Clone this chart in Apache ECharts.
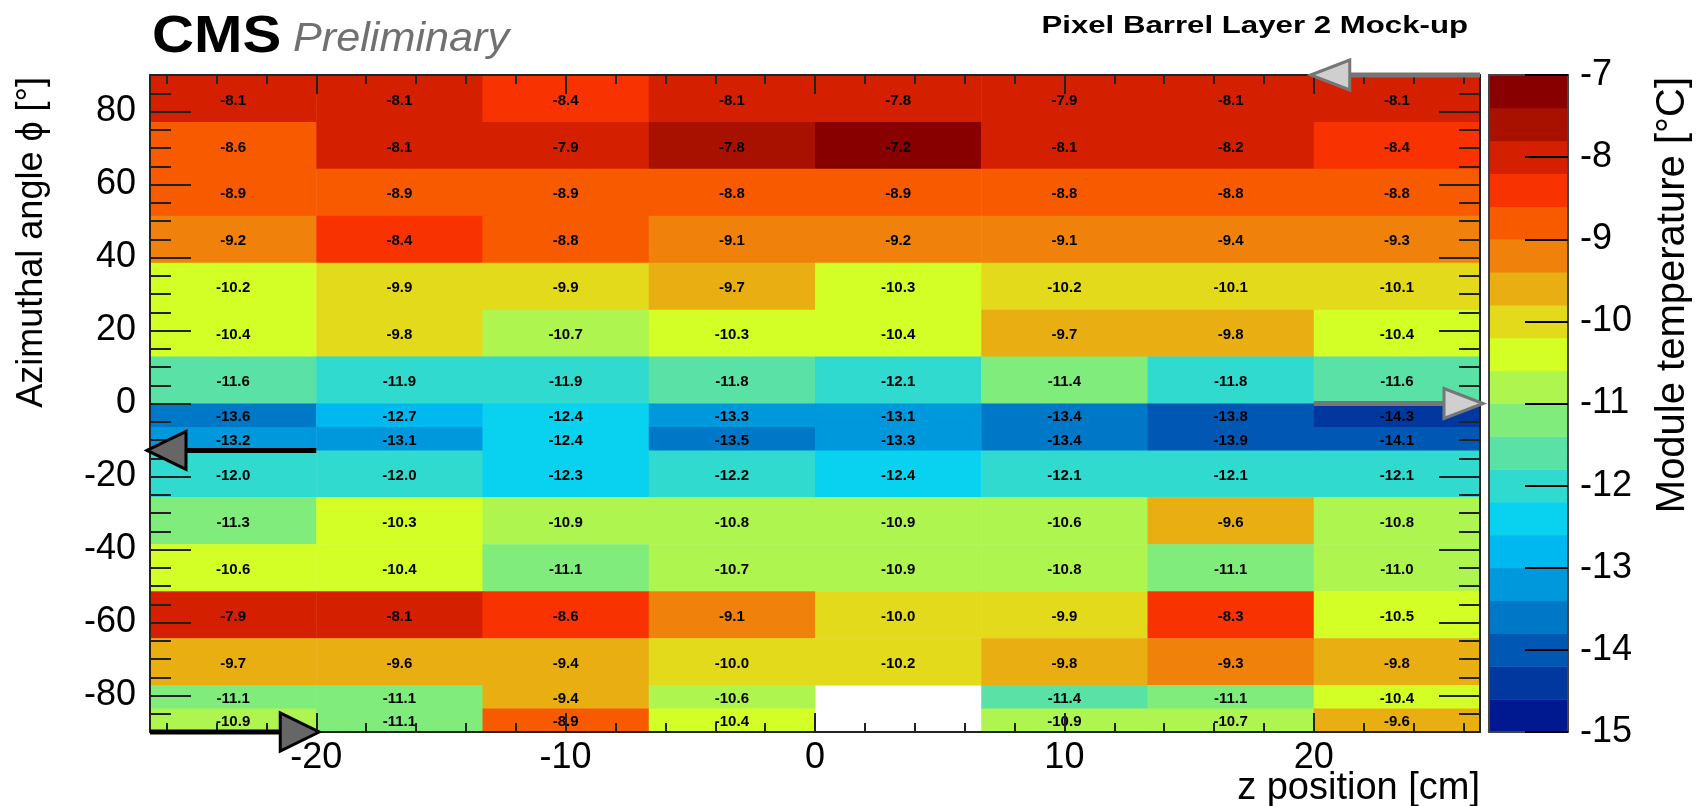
<!DOCTYPE html>
<html>
<head>
<meta charset="utf-8">
<script src="https://cdn.jsdelivr.net/npm/echarts@6/dist/echarts.min.js"></script>
<style>
html,body{margin:0;padding:0;background:#fff;}
#chart{width:1699px;height:806px;}
</style>
</head>
<body>
<div id="chart"></div>
<script>
// ---- Data ----
// z bin edges [cm] (8 modules)
const zEdges = [-80/3, -20, -40/3, -20/3, 0, 20/3, 40/3, 20, 80/3];
// phi bin edges [deg], top to bottom
const phiEdges = [90, 77.14, 64.29, 51.43, 38.57, 25.71, 12.86, 0, -6.43, -12.86, -25.71, -38.57, -51.43, -64.29, -77.14, -83.57, -90];
// module temperatures [°C], rows top (phi=90) to bottom (phi=-90), columns z from -26.7 to 26.7
const row01 = [-8.1, -8.1, -8.4, -8.1, -7.82, -7.9, -8.1, -8.1];
const row02 = [-8.62, -8.1, -7.9, -7.78, -7.2, -8.1, -8.18, -8.4];
const row03 = [-8.9, -8.9, -8.9, -8.8, -8.9, -8.8, -8.8, -8.8];
const row04 = [-9.2, -8.4, -8.8, -9.1, -9.2, -9.1, -9.38, -9.3];
const row05 = [-10.22, -9.9, -9.9, -9.7, -10.3, -10.18, -10.1, -10.1];
const row06 = [-10.4, -9.82, -10.7, -10.3, -10.4, -9.7, -9.78, -10.4];
const row07 = [-11.6, -11.9, -11.9, -11.78, -12.1, -11.38, -11.82, -11.6];
const row08 = [-13.6, -12.7, -12.4, -13.3, -13.1, -13.42, -13.82, -14.3];
const row09 = [-13.2, -13.1, -12.4, -13.5, -13.3, -13.42, -13.9, -14.1];
const row10 = [-12.0, -12.0, -12.3, -12.18, -12.4, -12.1, -12.1, -12.1];
const row11 = [-11.3, -10.3, -10.9, -10.8, -10.9, -10.62, -9.6, -10.8];
const row12 = [-10.58, -10.4, -11.1, -10.7, -10.9, -10.8, -11.1, -10.98];
const row13 = [-7.9, -8.1, -8.58, -9.1, -10.0, -9.9, -8.3, -10.5];
const row14 = [-9.7, -9.6, -9.42, -10.0, -10.18, -9.78, -9.3, -9.78];
const row15 = [-11.1, -11.1, -9.42, -10.62, null, -11.42, -11.1, -10.4];
const row16 = [-10.9, -11.1, -8.9, -10.4, null, -10.9, -10.7, -9.6];
const temperatureRows = [row01, row02, row03, row04, row05, row06, row07, row08, row09, row10, row11, row12, row13, row14, row15, row16];

// tick values
const xMajorTicks = [-20, -10, 0, 10, 20];
const xMinorTicks = [-26, -24, -22, -20, -18, -16, -14, -12, -10, -8, -6, -4, -2, 0, 2, 4, 6, 8, 10, 12, 14, 16, 18, 20, 22, 24, 26];
const yMajorTicks = [-80, -60, -40, -20, 0, 20, 40, 60, 80];
const yMinorTicks = [-85, -80, -75, -70, -65, -60, -55, -50, -45, -40, -35, -30, -25, -20, -15, -10, -5, 0, 5, 10, 15, 20, 25, 30, 35, 40, 45, 50, 55, 60, 65, 70, 75, 80, 85];

// colour scale: 20 contour levels from -15 to -7
const zMin = -15, zMax = -7;
const levelColors = ['#001890', '#0038a0', '#0058b4', '#0078c8', '#0098dc', '#00b8f0', '#08d2f0', '#30dace', '#5ae2a6', '#80ec7c',
                     '#aef550', '#d4ff26', '#e2da1a', '#e8ae12', '#f0820c', '#f85a00', '#f83200', '#d42000', '#a81000', '#880000'];

// arrows (cooling annotation): [zFrom, phiFrom, zTo, phiTo, kind]
const arrows = [
  [80/3, 90, 20, 90, 0],
  [20, 0, 80/3, 0, 0],
  [-20, -12.86, -80/3, -12.86, 1],
  [-80/3, -90, -20, -90, 1]
];

// ---- Build series data ----
const cellData = [];
temperatureRows.forEach((row, r) => {
  row.forEach((v, c) => {
    if (v === null) return;
    cellData.push([zEdges[c], zEdges[c + 1], phiEdges[r + 1], phiEdges[r], v]);
  });
});
const nLev = levelColors.length;
const step = (zMax - zMin) / nLev;
const pieces = [];
const barData = [];
for (let i = 0; i < nLev; i++) {
  const lo = zMin + i * step, hi = zMin + (i + 1) * step;
  pieces.push({ gte: lo, lt: hi, color: levelColors[i] });
  barData.push([0, 1, lo, hi, (lo + hi) / 2]);
}
pieces[nLev - 1].lte = zMax; delete pieces[nLev - 1].lt;

const FONT = '"Liberation Sans", Arial, Helvetica, sans-serif';
const AX = '#222';

function rectItem(params, api, withText) {
  const p0 = api.coord([api.value(0), api.value(2)]);
  const p1 = api.coord([api.value(1), api.value(3)]);
  const x = Math.min(p0[0], p1[0]), y = Math.min(p0[1], p1[1]);
  const w = Math.abs(p1[0] - p0[0]), h = Math.abs(p1[1] - p0[1]);
  const children = [{ type: 'rect', shape: { x: x, y: y, width: w + 0.5, height: h + 0.5 }, style: { fill: api.visual('color') } }];
  if (withText) {
    children.push({ type: 'text', style: { text: api.value(4).toFixed(1), x: x + w / 2, y: y + h / 2 + 2, align: 'center', verticalAlign: 'middle', font: 'bold 15px ' + FONT, fill: '#000' } });
  }
  return { type: 'group', children: children };
}

function arrowItem(params, api) {
  const p0 = api.coord([api.value(0), api.value(1)]);
  const p1 = api.coord([api.value(2), api.value(3)]);
  const kind = api.value(4);
  const dx = p1[0] - p0[0], dy = p1[1] - p0[1];
  const L = Math.sqrt(dx * dx + dy * dy);
  const ux = dx / L, uy = dy / L;
  const headLen = 36, hw = kind === 0 ? 15 : 19;
  const bx = p1[0] - ux * headLen, by = p1[1] - uy * headLen;
  const px = -uy, py = ux;
  const lineColor = kind === 0 ? '#767676' : '#000';
  const headFill = kind === 0 ? '#cfcfcf' : '#666';
  return { type: 'group', children: [
    { type: 'line', shape: { x1: p0[0], y1: p0[1], x2: bx, y2: by }, style: { stroke: lineColor, lineWidth: 5 } },
    { type: 'polygon', shape: { points: [[p1[0] + ux * 3, p1[1] + uy * 3], [bx + px * hw, by + py * hw], [bx - px * hw, by - py * hw]] }, style: { fill: headFill, stroke: lineColor, lineWidth: 3, lineJoin: 'miter' } }
  ] };
}

function valAxis(o) {
  return Object.assign({ type: 'value', splitLine: { show: false }, z: 5 }, o);
}

const xAxes = [
  valAxis({ gridIndex: 0, min: -80/3, max: 80/3, position: 'bottom',
    axisLine: { show: true, onZero: false, lineStyle: { color: AX, width: 2 } },
    axisTick: { show: true, inside: true, length: 19, customValues: xMajorTicks, lineStyle: { color: AX, width: 2 } },
    axisLabel: { show: true, customValues: xMajorTicks, fontSize: 36, fontFamily: FONT, color: '#000', margin: 8 } }),
  valAxis({ gridIndex: 0, min: -80/3, max: 80/3, position: 'bottom',
    axisLine: { show: false, onZero: false },
    axisTick: { show: true, inside: true, length: 9, customValues: xMinorTicks, lineStyle: { color: AX, width: 2 } },
    axisLabel: { show: false } }),
  valAxis({ gridIndex: 0, min: -80/3, max: 80/3, position: 'top',
    axisLine: { show: true, onZero: false, lineStyle: { color: AX, width: 2 } },
    axisTick: { show: true, inside: true, length: 19, customValues: xMajorTicks, lineStyle: { color: AX, width: 2 } },
    axisLabel: { show: false } }),
  valAxis({ gridIndex: 0, min: -80/3, max: 80/3, position: 'top',
    axisLine: { show: false, onZero: false },
    axisTick: { show: true, inside: true, length: 9, customValues: xMinorTicks, lineStyle: { color: AX, width: 2 } },
    axisLabel: { show: false } }),
  valAxis({ gridIndex: 1, min: 0, max: 1, position: 'bottom',
    axisLine: { show: true, onZero: false, lineStyle: { color: '#444', width: 2 } }, axisTick: { show: false }, axisLabel: { show: false } }),
  valAxis({ gridIndex: 1, min: 0, max: 1, position: 'top',
    axisLine: { show: true, onZero: false, lineStyle: { color: '#444', width: 2 } }, axisTick: { show: false }, axisLabel: { show: false } })
];

const yAxes = [
  valAxis({ gridIndex: 0, min: -90, max: 90, position: 'left',
    axisLine: { show: true, onZero: false, lineStyle: { color: AX, width: 2 } },
    axisTick: { show: true, inside: true, length: 41, customValues: yMajorTicks, lineStyle: { color: AX, width: 2 } },
    axisLabel: { show: true, customValues: yMajorTicks, fontSize: 36, fontFamily: FONT, color: '#000', margin: 14 } }),
  valAxis({ gridIndex: 0, min: -90, max: 90, position: 'left',
    axisLine: { show: false, onZero: false },
    axisTick: { show: true, inside: true, length: 21, customValues: yMinorTicks, lineStyle: { color: AX, width: 2 } },
    axisLabel: { show: false } }),
  valAxis({ gridIndex: 0, min: -90, max: 90, position: 'right',
    axisLine: { show: true, onZero: false, lineStyle: { color: AX, width: 2 } },
    axisTick: { show: true, inside: true, length: 41, customValues: yMajorTicks, lineStyle: { color: AX, width: 2 } },
    axisLabel: { show: false } }),
  valAxis({ gridIndex: 0, min: -90, max: 90, position: 'right',
    axisLine: { show: false, onZero: false },
    axisTick: { show: true, inside: true, length: 21, customValues: yMinorTicks, lineStyle: { color: AX, width: 2 } },
    axisLabel: { show: false } }),
  valAxis({ gridIndex: 1, min: zMin, max: zMax, interval: 1, position: 'right',
    axisLine: { show: true, onZero: false, lineStyle: { color: '#444', width: 2 } },
    axisTick: { show: true, inside: true, length: 43, lineStyle: { color: '#000', width: 2 } },
    axisLabel: { show: true, fontSize: 36, fontFamily: FONT, color: '#000', margin: 12 } }),
  valAxis({ gridIndex: 1, min: zMin, max: zMax, position: 'left',
    axisLine: { show: true, onZero: false, lineStyle: { color: '#444', width: 2 } }, axisTick: { show: false }, axisLabel: { show: false } })
];

const chart = echarts.init(document.getElementById('chart'), null, { renderer: 'canvas' });
chart.setOption({
  animation: false,
  backgroundColor: '#fff',
  grid: [
    { left: 150, top: 75, width: 1330, height: 657 },
    { left: 1489, top: 75, width: 79, height: 657 }
  ],
  xAxis: xAxes,
  yAxis: yAxes,
  visualMap: {
    type: 'piecewise', show: false, dimension: 4, seriesIndex: [0, 1], pieces: pieces
  },
  series: [
    { type: 'custom', name: 'temperature', coordinateSystem: 'cartesian2d', xAxisIndex: 0, yAxisIndex: 0,
      renderItem: function (p, api) { return rectItem(p, api, true); },
      encode: { x: [0, 1], y: [2, 3] }, data: cellData, z: 2 },
    { type: 'custom', name: 'colorbar', coordinateSystem: 'cartesian2d', xAxisIndex: 4, yAxisIndex: 4,
      renderItem: function (p, api) { return rectItem(p, api, false); },
      encode: { x: [0, 1], y: [2, 3] }, data: barData, z: 2 },
    { type: 'custom', name: 'arrows', coordinateSystem: 'cartesian2d', xAxisIndex: 0, yAxisIndex: 0,
      renderItem: arrowItem, encode: { x: [0, 2], y: [1, 3] }, data: arrows, z: 10, clip: false }
  ],
  graphic: [
    { type: 'text', x: 152, y: 38, scaleX: 1.14, style: { text: 'CMS', font: 'bold 51px ' + FONT, fill: '#000', align: 'left', verticalAlign: 'middle' } },
    { type: 'text', x: 293, y: 40, scaleX: 1.08, style: { text: 'Preliminary', font: 'italic 40px ' + FONT, fill: '#707070', align: 'left', verticalAlign: 'middle' } },
    { type: 'text', x: 1468, y: 26, scaleX: 1.3, style: { text: 'Pixel Barrel Layer 2 Mock-up', font: 'bold 24px ' + FONT, fill: '#000', align: 'right', verticalAlign: 'middle' } },
    { type: 'text', x: 32, y: 77, rotation: Math.PI / 2, style: { text: 'Azimuthal angle \u03D5 [\u00B0]', font: '36px ' + FONT, fill: '#000', align: 'right', verticalAlign: 'middle' } },
    { type: 'text', x: 1673, y: 77, rotation: Math.PI / 2, style: { text: 'Module temperature [\u00B0C]', font: '40px ' + FONT, fill: '#000', align: 'right', verticalAlign: 'middle' } },
    { type: 'text', x: 1480, y: 789, style: { text: 'z position [cm]', font: '38px ' + FONT, fill: '#000', align: 'right', verticalAlign: 'middle' } }
  ]
});
</script>
</body>
</html>
